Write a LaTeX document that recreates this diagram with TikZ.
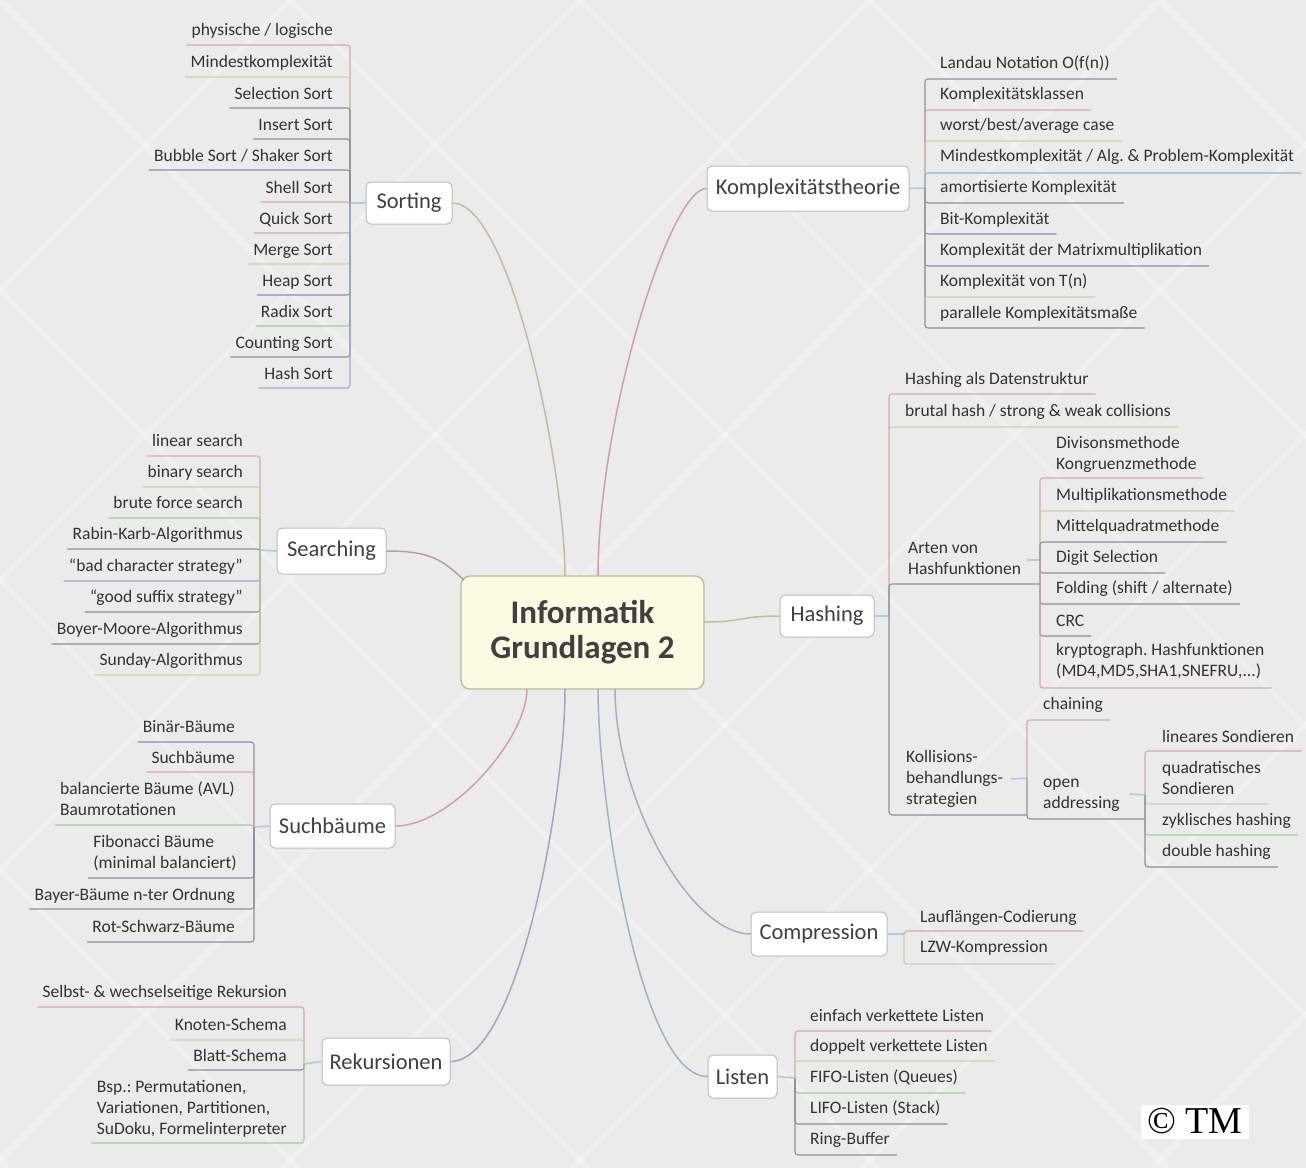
\documentclass[tikz,border=0pt]{standalone}
\usepackage{fontspec}
\setmainfont{Carlito}
\newfontfamily\tmfont{Liberation Serif}
\frenchspacing
\definecolor{bg}{HTML}{EBEBEB}
\definecolor{txt}{HTML}{333333}
\definecolor{txtb}{HTML}{404040}
\definecolor{boxline}{HTML}{BDBDBD}
\definecolor{cenfill}{HTML}{FBFBE4}
\definecolor{cenline}{HTML}{B9B9A2}
\definecolor{cpink}{HTML}{D9A3B5}
\definecolor{colive}{HTML}{CDCDA2}
\definecolor{cgray}{HTML}{8E8E9A}
\definecolor{cblue}{HTML}{8FB3C7}
\definecolor{cgreen}{HTML}{A5C7A0}
\definecolor{clav}{HTML}{A8A2C6}
\definecolor{cstub}{HTML}{A9CBE3}
\definecolor{lSort}{HTML}{C4BB9C}
\definecolor{lKomp}{HTML}{CE9DB1}
\definecolor{lSear}{HTML}{B89CAC}
\definecolor{lSuch}{HTML}{D49DB1}
\definecolor{lRek}{HTML}{A6A2C4}
\definecolor{lList}{HTML}{98B6C2}
\definecolor{lComp}{HTML}{A6AEBB}
\definecolor{lHash}{HTML}{BFBF96}
\tikzset{
  leaf/.style={inner sep=0pt, font=\fontsize{17.5}{21}\selectfont, text=txt, align=left},
  branch/.style={draw=boxline, fill=white, rounded corners=5pt, line width=1pt, inner sep=0pt,
    font=\fontsize{22.5}{26}\selectfont, text=txtb},
  twig/.style={line width=1.1pt, rounded corners=3pt},
  stub/.style={draw=cstub, line width=1.6pt},
  limb/.style={line width=1.5pt},
}
% left leaf: name, right x, text y, underline y, bracket x, junction y, colour, text
\newcommand{\lfL}[8]{%
  \node[leaf, anchor=east] (#1) at (#2,#3) {\strut #8};
  \coordinate (#1u) at ([xshift=-5pt]#1.west);
  \draw[twig, draw=#7] (#5,#6) -- (#5,#4) -- (#1u |- #5,#4);
}
% right leaf: name, left x, text y, underline y, bracket x, junction y, colour, text
\newcommand{\lfR}[8]{%
  \node[leaf, anchor=west] (#1) at (#2,#3) {\strut #8};
  \coordinate (#1u) at ([xshift=7pt]#1.east);
  \draw[twig, draw=#7] (#5,#6) -- (#5,#4) -- (#1u |- #5,#4);
}
\begin{document}
\begin{tikzpicture}[x=1pt,y=-1pt]
\useasboundingbox (0,0) rectangle (1306,1168);
\fill[bg] (0,0) rectangle (1306,1168);
\begin{scope}
  \clip (0,0) rectangle (1306,1168);
  \foreach \c in {-1160,-870,...,1460} {
    \draw[white, opacity=0.28, line width=5pt] (\c,0) -- ++(1168,1168);
  }
  \foreach \c in {0,290,...,2620} {
    \draw[white, opacity=0.28, line width=5pt] (\c,0) -- ++(-1168,1168);
  }
\end{scope}

% central and branch nodes
\node[draw=cenline, fill=cenfill, rounded corners=9pt, line width=1.3pt, minimum width=243pt,
  minimum height=113pt, inner sep=0pt, align=center, text=txtb,
  font=\bfseries\fontsize{33}{35}\selectfont] (central) at (582.5,632.5) {Informatik\\Grundlagen 2};
\node[branch, minimum width=86pt, minimum height=42pt] (sorting) at (409,203) {Sorting};
\node[branch, minimum width=202pt, minimum height=45pt] (komplex) at (808,188.5) {Komplexitätstheorie};
\node[branch, minimum width=109pt, minimum height=46pt] (searching) at (331.5,551) {Searching};
\node[branch, minimum width=125pt, minimum height=44pt] (suchb) at (332.5,826) {Suchbäume};
\node[branch, minimum width=128pt, minimum height=47pt] (rekurs) at (386,1061.5) {Rekursionen};
\node[branch, minimum width=94pt, minimum height=42pt] (hashing) at (827,616) {Hashing};
\node[branch, minimum width=136pt, minimum height=44pt] (compr) at (819,934) {Compression};
\node[branch, minimum width=69pt, minimum height=43pt] (listen) at (742.5,1076.5) {Listen};

% attachment points on the central node
\coordinate (cSort) at (565,576);
\coordinate (cKomp) at (598,576);
\coordinate (cSear) at (464,580);
\coordinate (cSuch) at (527,689);
\coordinate (cRek) at (565,689);
\coordinate (cList) at (598,689);
\coordinate (cComp) at (615,689);
\coordinate (cHash) at (704,622);

\draw[limb, draw=lSort] (sorting.east) .. controls +(58,0) and +(0,-106) .. (cSort);
\draw[limb, draw=lKomp] (komplex.west) .. controls +(-37,0) and +(0,-156) .. (cKomp);
\draw[limb, draw=lSear] (searching.east) .. controls +(45,0) and +(-22,-20) .. (cSear);
\draw[limb, draw=lSuch] (suchb.east) .. controls +(55,0) and +(0,50) .. (cSuch);
\draw[limb, draw=lRek] (rekurs.east) .. controls +(68,0) and +(0,110) .. (cRek);
\draw[limb, draw=lList] (listen.west) .. controls +(-68,0) and +(0,110) .. (cList);
\draw[limb, draw=lComp] (compr.west) .. controls +(-60,0) and +(0,110) .. (cComp);
\draw[limb, draw=lHash] (cHash) .. controls +(40,0) and +(-40,0) .. (hashing.west);

% ---------- Sorting
\coordinate (jSort) at (350,203);
\draw[stub] (sorting.west) -- (jSort);
\lfL{s1}{333}{31}{45}{350}{203}{cpink}{physische / logische}
\lfL{s2}{333}{63}{77}{350}{203}{colive}{Mindestkomplexität}
\lfL{s3}{333}{95}{108}{350}{203}{cgray}{Selection Sort}
\lfL{s4}{333}{126}{139}{350}{203}{cgray}{Insert Sort}
\lfL{s5}{333}{157}{170}{350}{203}{cgray}{Bubble Sort / Shaker Sort}
\lfL{s6}{333}{189}{202}{350}{203}{cpink}{Shell Sort}
\lfL{s7}{333}{220}{233}{350}{203}{cpink}{Quick Sort}
\lfL{s8}{333}{251}{264}{350}{203}{colive}{Merge Sort}
\lfL{s9}{333}{282}{295}{350}{203}{cgray}{Heap Sort}
\lfL{s10}{333}{313}{326}{350}{203}{cgreen}{Radix Sort}
\lfL{s11}{333}{344}{357}{350}{203}{cgray}{Counting Sort}
\lfL{s12}{333}{375}{388}{350}{203}{cblue}{Hash Sort}

% ---------- Searching
\coordinate (jSear) at (260,550);
\draw[stub] (searching.west) -- (jSear);
\lfL{q1}{243}{442}{456}{260}{550}{cpink}{linear search}
\lfL{q2}{243}{473}{487}{260}{550}{colive}{binary search}
\lfL{q3}{243}{504}{518}{260}{550}{cgreen}{brute force search}
\lfL{q4}{243}{535}{549}{260}{550}{cgray}{Rabin-Karb-Algorithmus}
\lfL{q5}{243}{567}{581}{260}{550}{clav}{``bad character strategy''}
\lfL{q6}{243}{598}{612}{260}{550}{cgray}{``good suffix strategy''}
\lfL{q7}{243}{630}{644}{260}{550}{cgray}{Boyer-Moore-Algorithmus}
\lfL{q8}{243}{661}{675}{260}{550}{colive}{Sunday-Algorithmus}

% ---------- Suchbaeume
\coordinate (jSuch) at (254,827);
\draw[stub] (suchb.west) -- (jSuch);
\lfL{b1}{235}{728}{742}{254}{827}{cgray}{Binär-Bäume}
\lfL{b2}{235}{759}{772}{254}{827}{cpink}{Suchbäume}
\lfL{b3}{235}{801}{825}{254}{827}{cgreen}{balancierte Bäume (AVL)\\\strut Baumrotationen}
\lfL{b4}{237}{854}{878}{254}{827}{cgray}{Fibonacci Bäume\\\strut (minimal balanciert)}
\lfL{b5}{235}{896}{909}{254}{827}{cgray}{Bayer-Bäume n-ter Ordnung}
\lfL{b6}{235}{928}{942}{254}{827}{cgray}{Rot-Schwarz-Bäume}

% ---------- Rekursionen
\coordinate (jRek) at (304,1064);
\draw[stub] (rekurs.west) -- (jRek);
\lfL{r1}{287}{993}{1007}{304}{1064}{cpink}{Selbst- \& wechselseitige Rekursion}
\lfL{r2}{287}{1026}{1040}{304}{1064}{colive}{Knoten-Schema}
\lfL{r3}{287}{1057}{1070}{304}{1064}{cgray}{Blatt-Schema}
\lfL{r4}{287}{1109}{1143}{304}{1064}{cgreen}{Bsp.: Permutationen,\\\strut Variationen, Partitionen,\\\strut SuDoku, Formelinterpreter}

% ---------- Komplexitaetstheorie
\coordinate (jKomp) at (925,188);
\draw[stub] (komplex.east) -- (jKomp);
\lfR{k1}{940}{64}{79}{925}{188}{cgray}{Landau Notation O(f(n))}
\lfR{k2}{940}{95}{110}{925}{188}{cpink}{Komplexitätsklassen}
\lfR{k3}{940}{126}{141}{925}{188}{colive}{worst/best/average case}
\lfR{k4}{940}{157}{173}{925}{188}{cblue}{Mindestkomplexität / Alg. \& Problem-Komplexität}
\lfR{k5}{940}{188}{203}{925}{188}{cgray}{amortisierte Komplexität}
\lfR{k6}{940}{220}{234}{925}{188}{cgray}{Bit-Komplexität}
\lfR{k7}{940}{251}{266}{925}{188}{cgray}{Komplexität der Matrixmultiplikation}
\lfR{k8}{940}{282}{297}{925}{188}{colive}{Komplexität von T(n)}
\lfR{k9}{940}{314}{328}{925}{188}{cgray}{parallele Komplexitätsmaße}

% ---------- Hashing
\coordinate (jHash) at (889,616);
\draw[stub] (hashing.east) -- (jHash);
\lfR{h1}{905}{380}{394}{889}{616}{cpink}{Hashing als Datenstruktur}
\lfR{h2}{905}{412}{427}{889}{616}{colive}{brutal hash / strong \& weak collisions}
\node[leaf, anchor=west] (ha) at (908,560) {\strut Arten von\\\strut Hashfunktionen};
\coordinate (jArt) at (1040,560);
\draw[twig, draw=cgray] (jHash) -- (889,584) -- (jArt |- 889,584);
\node[leaf, anchor=west] (hk) at (906,779) {\strut Kollisions-\\\strut behandlungs-\\\strut strategien};
\coordinate (jKol) at (1027,778);
\draw[twig, draw=cgray] (jHash) -- (889,815) -- (jKol |- 889,815);

% Arten von Hashfunktionen
\draw[stub] ([xshift=6pt]ha.east) -- (jArt);
\lfR{a1}{1056}{455}{478}{1040}{560}{cpink}{Divisonsmethode\\\strut Kongruenzmethode}
\lfR{a2}{1056}{496}{511}{1040}{560}{colive}{Multiplikationsmethode}
\lfR{a3}{1056}{527}{542}{1040}{560}{cgray}{Mittelquadratmethode}
\lfR{a4}{1056}{558}{573}{1040}{560}{cgray}{Digit Selection}
\lfR{a5}{1056}{589}{604}{1040}{560}{cgray}{Folding (shift / alternate)}
\lfR{a6}{1056}{622}{636}{1040}{560}{cgray}{CRC}
\lfR{a7}{1056}{662}{688}{1040}{560}{cpink}{kryptograph. Hashfunktionen\\\strut (MD4,MD5,SHA1,SNEFRU,...)}

% Kollisionsbehandlungsstrategien
\draw[stub] ([xshift=8pt]hk.east) -- (jKol);
\lfR{c1}{1043}{705}{720}{1027}{778}{cpink}{chaining}
\node[leaf, anchor=west] (ho) at (1043,794) {\strut open\\\strut addressing};
\coordinate (jOpen) at (1145,795);
\draw[twig, draw=cgray] (jKol) -- (1027,819) -- (jOpen |- 1027,819);

% open addressing
\draw[stub] ([xshift=10pt]ho.east) -- (jOpen);
\lfR{o1}{1162}{738}{751}{1145}{795}{cpink}{lineares Sondieren}
\lfR{o2}{1162}{780}{804}{1145}{795}{colive}{quadratisches\\\strut Sondieren}
\lfR{o3}{1162}{821}{835}{1145}{795}{cgreen}{zyklisches hashing}
\lfR{o4}{1162}{852}{867}{1145}{795}{cgray}{double hashing}

% ---------- Compression
\coordinate (jComp) at (904,934);
\draw[stub] (compr.east) -- (jComp);
\lfR{p1}{920}{918}{931}{904}{934}{cpink}{Lauflängen-Codierung}
\lfR{p2}{920}{948}{964}{904}{934}{colive}{LZW-Kompression}

% ---------- Listen
\coordinate (jList) at (795,1078);
\draw[stub] (listen.east) -- (jList);
\lfR{l1}{810}{1017}{1031}{795}{1078}{cpink}{einfach verkettete Listen}
\lfR{l2}{810}{1047}{1061}{795}{1078}{colive}{doppelt verkettete Listen}
\lfR{l3}{810}{1078}{1093}{795}{1078}{cgreen}{FIFO-Listen (Queues)}
\lfR{l4}{810}{1109}{1124}{795}{1078}{cgray}{LIFO-Listen (Stack)}
\lfR{l5}{810}{1140}{1155}{795}{1078}{cgray}{Ring-Buffer}

% copyright mark
\node[fill=white, inner sep=0pt, minimum width=108pt, minimum height=34pt, text=black,
  font=\tmfont\fontsize{38}{40}\selectfont] (tm) at (1195,1121.5) {© TM};
\end{tikzpicture}
\end{document}
